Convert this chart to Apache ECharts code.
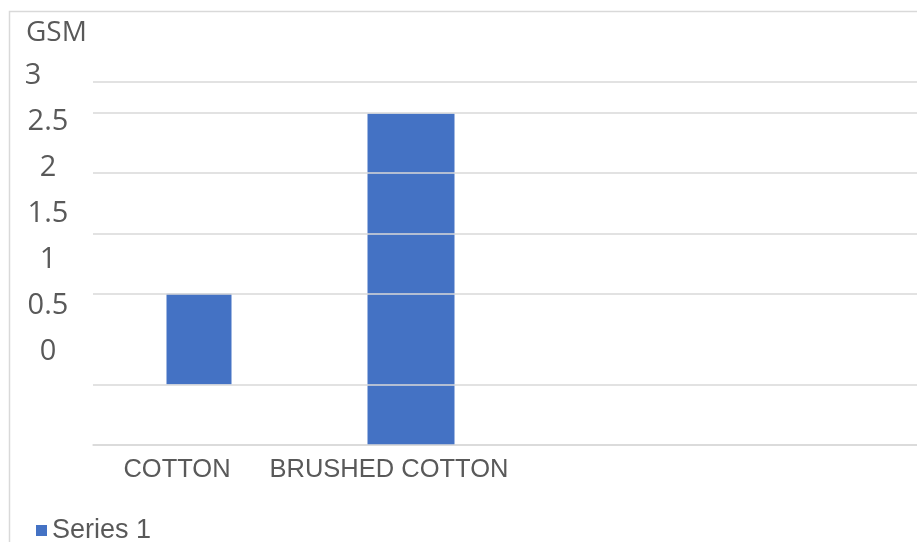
<!DOCTYPE html>
<html>
<head>
<meta charset="utf-8">
<script src="https://cdn.jsdelivr.net/npm/echarts@6/dist/echarts.min.js"></script>
<style>
  html, body { margin: 0; padding: 0; background: #fff; }
  #chart { width: 917px; height: 542px; }
</style>
</head>
<body>
<div id="chart"></div>
<script>
// Fabric categories and GSM readings
const categories = ['COTTON', 'BRUSHED COTTON'];
const barBase = [0.5, 0];        // where each bar starts
const barTop = [1.25, 2.74];     // where each bar ends
const seriesName = 'Series 1';

// Value axis: gridline positions and tick label column
const gridValues = [0, 0.5, 1.25, 1.75, 2.25, 2.75, 3];
const tickValues = [0, 0.5, 1, 1.5, 2, 2.5, 3];
const tickLabels = ['0', '0.5', '1', '1.5', '2', '2.5', '3'];

const TEXT = '#595959';
const BLUE = '#4472C4';
const LINE = '#d9d9d9';

const axisCats = categories.concat(['', '']);
const cottonOffset = [barBase[0], '-', '-', '-'];
const cottonValue = [barTop[0] - barBase[0], '-', '-', '-'];
const brushedValue = ['-', barTop[1] - barBase[1], '-', '-'];

const chart = echarts.init(document.getElementById('chart'), null, { renderer: 'canvas' });

chart.setOption({
  animation: false,
  backgroundColor: '#fff',
  graphic: [{
    type: 'rect',
    shape: { x: 9.5, y: 11.5, width: 1000, height: 1000 },
    style: { fill: 'none', stroke: LINE, lineWidth: 1.5 },
    silent: true,
    z: -10
  }],
  title: {
    text: 'GSM',
    left: 21,
    top: 14,
    textStyle: { fontFamily: 'Open Sans', fontSize: 28, fontWeight: 'normal', color: TEXT }
  },
  legend: {
    data: [seriesName],
    left: 31,
    top: 512,
    icon: 'rect',
    itemWidth: 11,
    itemHeight: 11,
    textStyle: { fontFamily: 'Liberation Sans', fontSize: 27, color: TEXT }
  },
  grid: [
    { left: 93, width: 848, top: 82, bottom: 97, outerBoundsMode: 'none', containLabel: false },
    { left: 48, width: 10, top: 76, bottom: 190, outerBoundsMode: 'none', containLabel: false }
  ],
  xAxis: [
    {
      type: 'category',
      gridIndex: 0,
      data: axisCats,
      axisLine: { lineStyle: { color: LINE, width: 1.5 } },
      axisTick: { show: false },
      axisLabel: {
        color: TEXT,
        fontFamily: 'Liberation Sans',
        fontSize: 25.5,
        margin: 12,
        padding: [0, 44, 0, 0],
        interval: 0
      },
      splitLine: { show: false }
    },
    {
      type: 'category',
      gridIndex: 0,
      data: axisCats,
      show: false
    },
    {
      type: 'category',
      gridIndex: 1,
      data: [''],
      show: false
    }
  ],
  yAxis: [
    {
      type: 'value',
      gridIndex: 0,
      min: 0,
      max: 3,
      show: false,
      splitLine: { show: false }
    },
    {
      type: 'value',
      gridIndex: 1,
      min: 0,
      max: 3,
      interval: 0.5,
      axisLine: { show: false },
      axisTick: { show: false },
      splitLine: { show: false },
      axisLabel: {
        margin: 0,
        align: 'center',
        color: TEXT,
        fontFamily: 'Open Sans',
        fontSize: 29,
        formatter: function (value) {
          const i = tickValues.indexOf(value);
          const txt = i >= 0 ? tickLabels[i] : '';
          return value === 3 ? '{l|' + txt + '}' : txt;
        },
        rich: {
          l: { fontFamily: 'Open Sans', fontSize: 29, color: TEXT, padding: [0, 30, 0, 0] }
        }
      }
    }
  ],
  series: [
    {
      name: 'base',
      type: 'bar',
      xAxisIndex: 0,
      yAxisIndex: 0,
      stack: 'cotton',
      barWidth: 65,
      data: cottonOffset,
      itemStyle: { color: 'rgba(0,0,0,0)' },
      silent: true
    },
    {
      name: seriesName,
      type: 'bar',
      xAxisIndex: 0,
      yAxisIndex: 0,
      stack: 'cotton',
      barWidth: 65,
      data: cottonValue,
      itemStyle: { color: BLUE }
    },
    {
      name: seriesName,
      type: 'bar',
      xAxisIndex: 1,
      yAxisIndex: 0,
      barWidth: 87,
      data: brushedValue,
      itemStyle: { color: BLUE },
      markLine: {
        silent: true,
        symbol: 'none',
        label: { show: false },
        lineStyle: { color: LINE, width: 1.5, type: 'solid' },
        data: gridValues.map(v => ({ yAxis: v }))
      },
      z: 3
    }
  ]
});
</script>
</body>
</html>
